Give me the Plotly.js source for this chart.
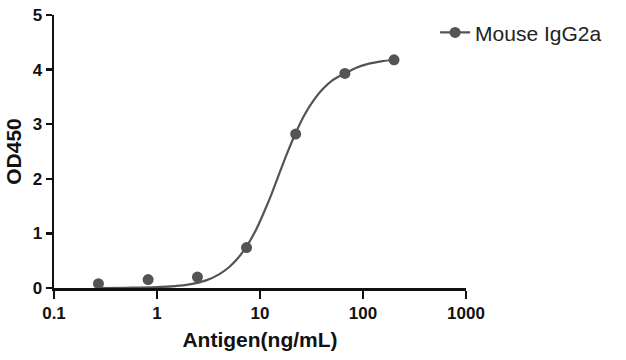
<!DOCTYPE html>
<html>
<head>
<meta charset="utf-8">
<script src="https://cdn.plot.ly/plotly-3.0.1.min.js"></script>
<style>html,body{margin:0;padding:0;background:#fff;}#chart{width:626px;height:360px;}</style>
</head>
<body>
<div id="chart"></div>
<script>
// Measured data points (Antigen ng/mL vs OD450)
const seriesName = 'Mouse IgG2a';
const antigen = [0.27, 0.82, 2.47, 7.4, 22.2, 66.7, 200];
const od450 = [0.08, 0.155, 0.20, 0.74, 2.82, 3.93, 4.18];
// Fitted curve
const curveX = [0.27, 0.5, 1, 1.5, 2, 3, 4, 5, 6, 7.4, 9, 11, 13, 15, 18, 22.2, 27, 33, 40, 50, 66.7, 85, 110, 150, 200];
const curveY = [0.0, 0.004, 0.015, 0.035, 0.062, 0.14, 0.25, 0.38, 0.53, 0.76, 1.04, 1.40, 1.73, 2.04, 2.43, 2.84, 3.17, 3.43, 3.63, 3.80, 3.93, 4.03, 4.10, 4.15, 4.18];
const xTicks = [0.1, 1, 10, 100, 1000];
const xTickText = ['0.1', '1', '10', '100', '1000'];
const yTicks = [0, 1, 2, 3, 4, 5];
const yTickText = ['0', '1', '2', '3', '4', '5'];

const grey = '#545454';
const bold = s => '<b>' + s + '</b>';
const traces = [
  {x: curveX, y: curveY, mode: 'lines', line: {color: grey, width: 2.2, shape: 'spline'}, showlegend: false, hoverinfo: 'skip'},
  {x: antigen, y: od450, mode: 'markers', marker: {color: grey, size: 11}, showlegend: false},
  {x: [null], y: [null], mode: 'lines+markers', name: seriesName, line: {color: grey, width: 2.2}, marker: {color: grey, size: 11}, showlegend: true}
];

const fam = 'Liberation Sans, Arial, sans-serif';
const layout = {
  width: 626, height: 360,
  margin: {l: 54, r: 160, t: 15, b: 72},
  paper_bgcolor: '#fff', plot_bgcolor: '#fff',
  showlegend: true,
  legend: {x: 0.925, xanchor: 'left', y: 1.010, yanchor: 'top', font: {family: fam, size: 21, color: '#222'}, bgcolor: 'rgba(0,0,0,0)', borderwidth: 0, itemwidth: 30},
  xaxis: {
    type: 'log', range: [-1, 3],
    tickmode: 'array', tickvals: xTicks, ticktext: xTickText.map(bold),
    showgrid: false, zeroline: false,
    showline: true, linecolor: '#111', linewidth: 2.5,
    ticks: 'outside', ticklen: 8, tickwidth: 2.5, tickcolor: '#111',
    tickfont: {family: fam, size: 17, color: '#111'},
    title: {text: bold('Antigen(ng/mL)'), font: {family: fam, size: 21, color: '#111'}, standoff: 11}
  },
  yaxis: {
    range: [0, 5],
    tickmode: 'array', tickvals: yTicks, ticktext: yTickText.map(bold),
    showgrid: false, zeroline: false,
    showline: true, linecolor: '#111', linewidth: 2.5,
    ticks: 'outside', ticklen: 6, tickwidth: 2.5, tickcolor: '#111',
    tickfont: {family: fam, size: 17, color: '#111'},
    title: {text: bold('OD450'), font: {family: fam, size: 21, color: '#111'}, standoff: 6}
  }
};
Plotly.newPlot('chart', traces, layout, {displayModeBar: false, staticPlot: true});
</script>
</body>
</html>
